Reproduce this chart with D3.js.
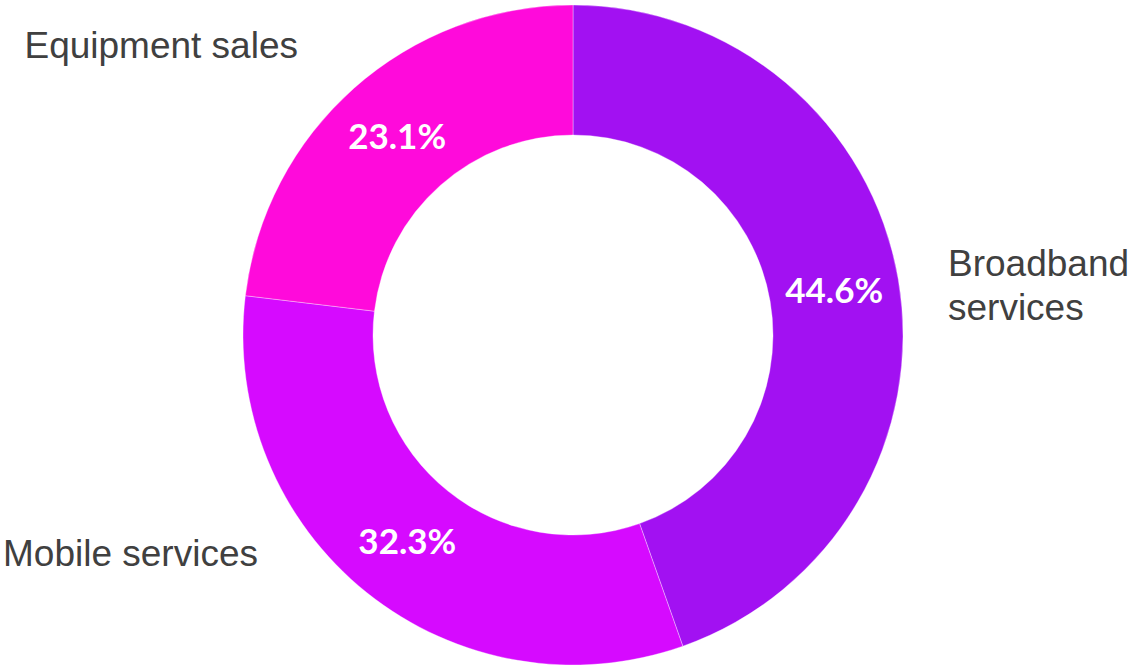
<!DOCTYPE html>
<html>
<head>
<meta charset="utf-8">
<script src="https://cdn.jsdelivr.net/npm/d3@7"></script>
<style>
  html, body { margin: 0; padding: 0; background: #fff; }
  svg { display: block; }
  .pct { font-family: Lato, "Noto Sans", sans-serif; font-weight: 700; fill: #fff; }
  .cat { font-family: "Liberation Sans", Arial, sans-serif; fill: #404040; }
</style>
</head>
<body>
<div id="chart"></div>
<script>
// -- Data ------------------------------------------------------
const categories = ["Broadband services", "Mobile services", "Equipment sales"];
const shares = [44.6, 32.3, 23.1];
const colors = ["#a211f2", "#d60aff", "#ff0adb"];

// -- Layout ----------------------------------------------------
const width = 1135, height = 668;
const cx = 573, cy = 335;
const outerR = 330, innerR = 200;

// hand-placed category labels (as in the original slide)
const labelLayout = [
  { x: 948, y: 276, anchor: "start", lines: ["Broadband", "services"] },
  { x: 258, y: 566, anchor: "end", lines: ["Mobile services"] },
  { x: 298, y: 58, anchor: "end", lines: ["Equipment sales"] },
];

const svg = d3.select("#chart").append("svg")
  .attr("width", width)
  .attr("height", height);

const g = svg.append("g").attr("transform", `translate(${cx},${cy})`);

const pie = d3.pie().sort(null).value((d) => d.value);
const arc = d3.arc().innerRadius(innerR).outerRadius(outerR);

const data = categories.map((c, i) => ({ name: c, value: shares[i], color: colors[i] }));
const arcs = pie(data);

g.selectAll("path")
  .data(arcs)
  .join("path")
  .attr("d", arc)
  .attr("fill", (d) => d.data.color)
  .attr("stroke", "rgba(255,255,255,0.35)")
  .attr("stroke-width", 1);

g.selectAll("text.pct")
  .data(arcs)
  .join("text")
  .attr("class", "pct")
  .attr("transform", (d) => `translate(${arc.centroid(d)})`)
  .attr("text-anchor", "middle")
  .attr("dy", "0.36em")
  .style("font-size", "35px")
  .text((d) => d.data.value.toFixed(1) + "%");

// Category labels
labelLayout.forEach((l) => {
  const t = svg.append("text")
    .attr("class", "cat")
    .attr("x", l.x)
    .attr("y", l.y)
    .attr("text-anchor", l.anchor)
    .style("font-size", "37px");
  l.lines.forEach((line, i) => {
    t.append("tspan").attr("x", l.x).attr("dy", i === 0 ? 0 : 44).text(line);
  });
});
</script>
</body>
</html>
